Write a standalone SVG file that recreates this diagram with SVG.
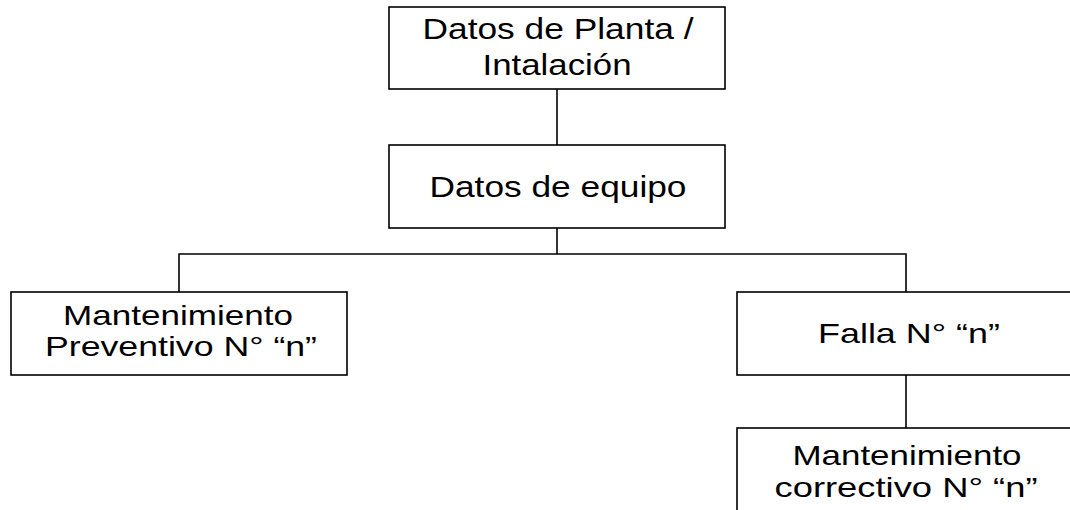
<svg xmlns="http://www.w3.org/2000/svg" width="1070" height="510" viewBox="0 0 1070 510">
<style>
.box{fill:#fff;stroke:#000;stroke-width:1.6}
.ln{fill:none;stroke:#000;stroke-width:1.6}
.t{font-family:"Liberation Sans",Arial,sans-serif;font-size:28px;fill:#000;text-anchor:middle}
.tl{font-size:29px}
</style>
<rect width="1070" height="510" fill="#fff"/>
<g id="connectors">
<line class="ln" x1="557" y1="89" x2="557" y2="145"/>
<line class="ln" x1="557" y1="228" x2="557" y2="254"/>
<polyline class="ln" points="179,292 179,254 906,254 906,292"/>
<line class="ln" x1="906" y1="375" x2="906" y2="428"/>
</g>
<g id="planta">
<rect class="box" x="389" y="7" width="336" height="82"/>
<text class="t tl" x="558" y="39" textLength="271" lengthAdjust="spacingAndGlyphs">Datos de Planta /</text>
<text class="t tl" x="557" y="75" textLength="149" lengthAdjust="spacingAndGlyphs">Intalación</text>
</g>
<g id="equipo">
<rect class="box" x="389" y="145" width="336" height="83"/>
<text class="t tl" x="558" y="197" textLength="257" lengthAdjust="spacingAndGlyphs">Datos de equipo</text>
</g>
<g id="preventivo">
<rect class="box" x="11" y="292" width="336" height="83"/>
<text class="t" x="178" y="325" textLength="230" lengthAdjust="spacingAndGlyphs">Mantenimiento</text>
<text class="t" x="181" y="356" textLength="272" lengthAdjust="spacingAndGlyphs">Preventivo N° “n”</text>
</g>
<g id="falla">
<rect class="box" x="737" y="292" width="338" height="83"/>
<text class="t" x="909" y="343" textLength="182" lengthAdjust="spacingAndGlyphs">Falla N° “n”</text>
</g>
<g id="correctivo">
<rect class="box" x="737" y="428" width="338" height="100"/>
<text class="t" x="907" y="465" textLength="229" lengthAdjust="spacingAndGlyphs">Mantenimiento</text>
<text class="t" x="906" y="497" textLength="263" lengthAdjust="spacingAndGlyphs">correctivo N° “n”</text>
</g>
</svg>
